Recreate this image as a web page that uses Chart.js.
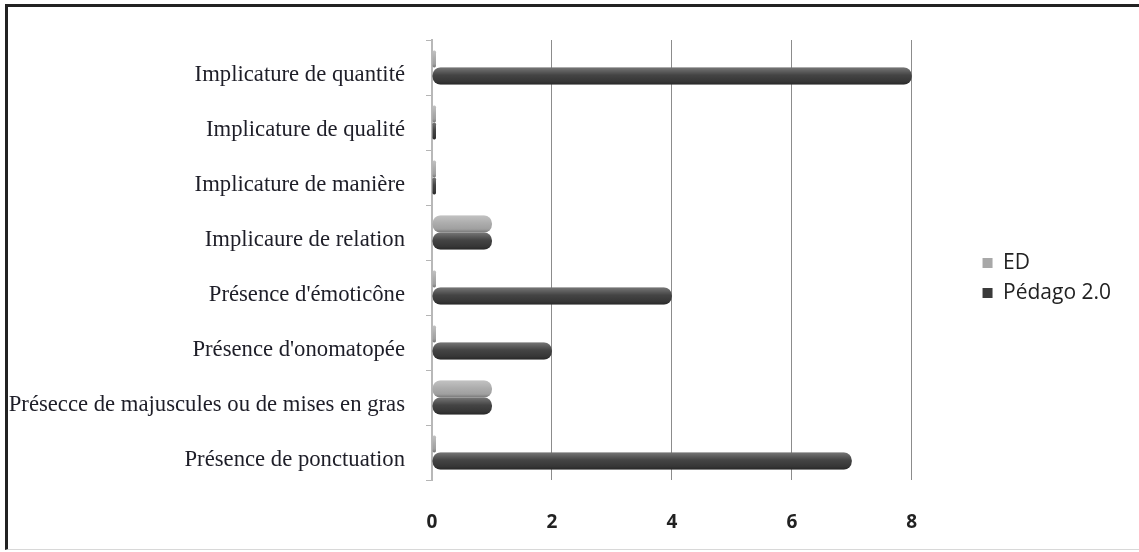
<!DOCTYPE html>
<html>
<head>
<meta charset="utf-8">
<script src="https://cdn.jsdelivr.net/npm/chart.js@4"></script>
<style>
  html, body { margin: 0; padding: 0; background: #fff; }
  #frame {
    position: absolute; left: 5px; top: 4px; width: 1131px; height: 542px;
    border-left: 3px solid #222; border-top: 3px solid #222;
    border-right: 1px solid #d8d8d8; border-bottom: 1px solid #d8d8d8;
  }
  #wrap { position: absolute; left: 0; top: 0; width: 1139px; height: 552px; }
</style>
</head>
<body>
<div id="frame"></div>
<div id="wrap"><canvas id="implicChart" width="1139" height="552"></canvas></div>
<script>
// categories, top to bottom
var categories = [
  'Implicature de quantité',
  'Implicature de qualité',
  'Implicature de manière',
  'Implicaure de relation',
  "Présence d'émoticône",
  "Présence d'onomatopée",
  'Présecce de majuscules ou de mises en gras',
  'Présence de ponctuation'
];
var edValues     = [0, 0, 0, 1, 0, 0, 1, 0];
var pedagoValues = [8, 0, 0, 1, 4, 2, 1, 7];
var xTicks       = [0, 2, 4, 6, 8];

// shading over each bar so it reads like a tube
var tubeShade = {
  id: 'tubeShade',
  afterDatasetsDraw: function(chart) {
    var ctx = chart.ctx;
    chart.data.datasets.forEach(function(ds, i) {
      var meta = chart.getDatasetMeta(i);
      meta.data.forEach(function(bar) {
        var p = bar.getProps(['x', 'y', 'base', 'height'], true);
        var top = p.y - p.height / 2;
        var g = ctx.createLinearGradient(0, top, 0, top + p.height);
        g.addColorStop(0, 'rgba(255,255,255,0.30)');
        g.addColorStop(0.45, 'rgba(255,255,255,0.05)');
        g.addColorStop(0.8, 'rgba(0,0,0,0.05)');
        g.addColorStop(1, 'rgba(0,0,0,0.30)');
        ctx.save();
        ctx.beginPath();
        if (ctx.roundRect) {
          ctx.roundRect(Math.min(p.base, p.x), top, Math.abs(p.x - p.base), p.height, p.height / 2.2);
        } else {
          ctx.rect(Math.min(p.base, p.x), top, Math.abs(p.x - p.base), p.height);
        }
        ctx.fillStyle = g;
        ctx.fill();
        ctx.restore();
      });
    });
  }
};

var chartCtx = document.getElementById('implicChart').getContext('2d');
var implicChart = new Chart(chartCtx, {
  type: 'bar',
  data: {
    labels: categories,
    datasets: [
      {
        label: 'ED',
        data: edValues,
        backgroundColor: '#a8a8a8',
        borderRadius: 8,
        borderSkipped: false,
        minBarLength: 4,
        categoryPercentage: 0.62,
        barPercentage: 1.0
      },
      {
        label: 'Pédago 2.0',
        data: pedagoValues,
        backgroundColor: '#3a3a3a',
        borderRadius: 8,
        borderSkipped: false,
        minBarLength: 4,
        categoryPercentage: 0.62,
        barPercentage: 1.0
      }
    ]
  },
  options: {
    indexAxis: 'y',
    responsive: false,
    animation: false,
    layout: { padding: { top: 20, right: 18, bottom: 16, left: 0 } },
    plugins: {
      tooltip: { enabled: false },
      legend: {
        position: 'right',
        labels: {
          boxWidth: 10,
          boxHeight: 10,
          padding: 9,
          color: '#222',
          font: { family: 'Open Sans', size: 21 },
          generateLabels: function(chart) {
            return chart.data.datasets.map(function(ds, i) {
              return {
                text: ds.label,
                fillStyle: ds.backgroundColor,
                strokeStyle: ds.backgroundColor,
                lineWidth: 0,
                fontColor: '#222',
                datasetIndex: i
              };
            });
          }
        }
      }
    },
    scales: {
      x: {
        min: 0,
        max: 9.03,
        afterBuildTicks: function(scale) {
          scale.ticks = xTicks.map(function(v) { return { value: v }; });
        },
        afterFit: function(scale) { scale.height = 56; },
        grid: { color: '#8c8c8c', lineWidth: 1, drawTicks: false },
        border: { display: false },
        ticks: {
          padding: 31,
          color: '#222',
          font: { family: 'Open Sans', size: 19, weight: '700' }
        }
      },
      // empty strip above the plot, beside the legend
      xTop: {
        type: 'linear',
        position: 'top',
        afterFit: function(scale) { scale.height = 20; },
        grid: { display: false },
        border: { display: false },
        ticks: { display: false }
      },
      y: {
        afterFit: function(scale) { scale.width = 432; },
        grid: {
          drawOnChartArea: false,
          drawTicks: true,
          tickLength: 6,
          tickColor: '#b5b5b5'
        },
        border: { display: true, color: '#b8b8b8', width: 2 },
        ticks: {
          padding: 21,
          labelOffset: 7.5,
          color: '#1e1e28',
          font: { family: 'Liberation Serif', size: 22.7 }
        }
      }
    }
  },
  plugins: [tubeShade]
});
</script>
</body>
</html>
